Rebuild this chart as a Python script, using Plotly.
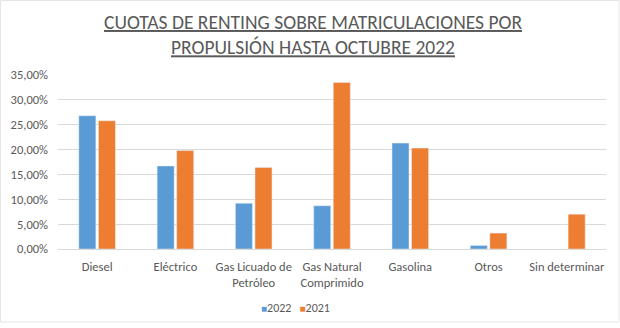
import plotly.graph_objects as go

categories = ["Diesel", "Eléctrico", "Gas Licuado de<br>Petróleo", "Gas Natural<br>Comprimido",
              "Gasolina", "Otros", "Sin determinar"]
series_names = ["2022", "2021"]
values_2022 = [0.268, 0.167, 0.092, 0.087, 0.213, 0.007, None]
values_2021 = [0.258, 0.198, 0.164, 0.335, 0.203, 0.032, 0.070]
tick_vals = [0, 0.05, 0.10, 0.15, 0.20, 0.25, 0.30, 0.35]
title_lines = ["CUOTAS DE RENTING SOBRE MATRICULACIONES POR", "PROPULSIÓN HASTA OCTUBRE 2022"]
colors = ["#5B9BD5", "#ED7D31"]

font_family = "Carlito, Calibri, Lato, sans-serif"
gray = "#595959"

W, H = 620, 328
L, R, T, B = 58, 14, 75, 79
pw, ph = W - L - R, H - T - B


def px_x(x):
    return (x - L) / pw


def px_y(y):
    return (H - B - y) / ph


fig = go.Figure()
for name, vals, col in zip(series_names, [values_2022, values_2021], colors):
    fig.add_trace(go.Bar(name=name, x=categories, y=vals, marker_color=col))

annotations = [
    dict(text="<br>".join("<u>" + t + "</u>" for t in title_lines),
         x=px_x(313), y=px_y(34), xref="paper", yref="paper",
         xanchor="center", yanchor="middle", showarrow=False,
         font=dict(family=font_family, size=19.5, color=gray)),
    dict(text="&nbsp;&nbsp;&nbsp;".join(
        f"<span style='color:{c};font-size:10px'>■</span>{n}" for n, c in zip(series_names, colors)),
        x=px_x(295), y=px_y(308), xref="paper", yref="paper",
        xanchor="center", yanchor="middle", showarrow=False,
        font=dict(family=font_family, size=12, color=gray)),
]

fig.update_layout(
    width=W, height=H,
    margin=dict(l=L, r=R, t=T, b=B),
    paper_bgcolor="white", plot_bgcolor="white",
    separators=",.",
    barmode="group", bargap=0.5, bargroupgap=0.13,
    showlegend=False,
    font=dict(family=font_family, color=gray, size=12),
    annotations=annotations,
    shapes=[dict(type="rect", xref="paper", yref="paper",
                 x0=px_x(0.5), x1=px_x(619), y0=px_y(322), y1=px_y(0.5),
                 line=dict(color="#E6E6E6", width=1), layer="below")],
    xaxis=dict(showline=True, linecolor="#D9D9D9", tickfont=dict(size=12.5, color=gray),
               ticks="", showgrid=False, automargin=False, ticklabelstandoff=6),
    yaxis=dict(range=[0, 0.35], tickvals=tick_vals, tickformat=".2%",
               showgrid=True, gridcolor="#D9D9D9", zeroline=False, automargin=False,
               tickfont=dict(size=12.5, color=gray), ticks="", ticklabelstandoff=9),
)

fig.write_html("out.html")
